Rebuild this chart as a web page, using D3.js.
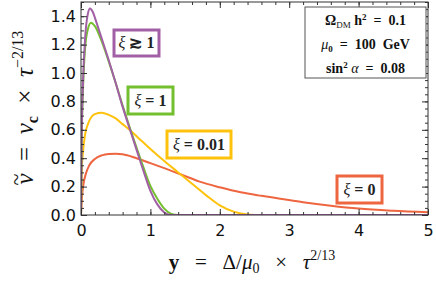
<!DOCTYPE html>
<html>
<head>
<meta charset="utf-8">
<script src="https://cdn.jsdelivr.net/npm/d3@7"></script>
<style>
  body { margin: 0; background: #fff; }
  svg { display: block; }
  text { white-space: pre; }
</style>
</head>
<body>
<svg></svg>
<script>
// curves (x = y-variable, v = nu tilde)
let xiBigX = [0, 0.01, 0.03, 0.06, 0.1, 0.13, 0.17, 0.22, 0.3, 0.4, 0.5, 0.6, 0.7, 0.8, 0.9, 1.0, 1.1, 1.2, 1.3, 1.5, 2, 3, 4, 5]
let xiBigV = [0, 0.55, 0.95, 1.25, 1.42, 1.455, 1.43, 1.36, 1.24, 1.09, 0.93, 0.76, 0.61, 0.46, 0.31, 0.17, 0.075, 0.018, 0, 0, 0, 0, 0, 0]

let xiOneX = [0, 0.01, 0.03, 0.06, 0.1, 0.145, 0.2, 0.3, 0.4, 0.5, 0.6, 0.7, 0.8, 0.9, 1.0, 1.1, 1.2, 1.3, 1.4, 2, 3, 4, 5]
let xiOneV = [0, 0.5, 0.9, 1.18, 1.31, 1.354, 1.33, 1.22, 1.08, 0.93, 0.77, 0.62, 0.475, 0.335, 0.205, 0.115, 0.045, 0.008, 0, 0, 0, 0, 0]

let xiSmallX = [0, 0.01, 0.03, 0.06, 0.1, 0.15, 0.2, 0.3, 0.4, 0.5, 0.6, 0.7, 0.8, 0.9, 1.0, 1.2, 1.4, 1.6, 1.8, 2.0, 2.2, 2.4, 2.6, 3, 4, 5]
let xiSmallV = [0, 0.3, 0.45, 0.57, 0.64, 0.69, 0.71, 0.72, 0.705, 0.68, 0.64, 0.6, 0.555, 0.51, 0.465, 0.38, 0.3, 0.22, 0.14, 0.068, 0.024, 0.004, 0, 0, 0, 0]

let xiZeroX = [0, 0.01, 0.03, 0.07, 0.12, 0.2, 0.3, 0.4, 0.5, 0.6, 0.8, 1.0, 1.2, 1.47, 1.71, 2.0, 2.3, 2.6, 2.87, 3.2, 3.6, 4.0, 4.5, 5]
let xiZeroV = [0, 0.1, 0.2, 0.29, 0.35, 0.395, 0.42, 0.43, 0.432, 0.428, 0.4, 0.365, 0.33, 0.28, 0.235, 0.195, 0.16, 0.135, 0.115, 0.09, 0.065, 0.045, 0.03, 0.02]

let xTicks = [0, 1, 2, 3, 4, 5]
let yTicks = [0, 0.2, 0.4, 0.6, 0.8, 1.0, 1.2, 1.4]

let width = 436
let height = 282
let plotLeft = 81, plotRight = 428, plotTop = 2, plotBottom = 215

let svg = d3.select('svg').attr('width', width).attr('height', height)

let xScale = d3.scaleLinear().domain([0, 5]).range([plotLeft, plotRight])
let yScale = d3.scaleLinear().domain([0, 1.5]).range([plotBottom, plotTop])

let series = [
  {x: xiZeroX, v: xiZeroV, color: '#ee6640'},
  {x: xiSmallX, v: xiSmallV, color: '#fec20c'},
  {x: xiOneX, v: xiOneV, color: '#74bf2f'},
  {x: xiBigX, v: xiBigV, color: '#a160a5'}
]

let line = d3.line()
  .x(d => xScale(d[0]))
  .y(d => yScale(d[1]))
  .curve(d3.curveMonotoneX)

svg.append('defs').append('clipPath').attr('id', 'clip')
  .append('rect').attr('x', plotLeft).attr('y', plotTop - 1).attr('width', plotRight - plotLeft).attr('height', plotBottom - plotTop + 1)

svg.append('g').attr('clip-path', 'url(#clip)')
  .selectAll('path')
  .data(series)
  .enter()
  .append('path')
  .attr('d', s => line(s.x.map((x, i) => [x, s.v[i]])))
  .attr('fill', 'none')
  .attr('stroke', s => s.color)
  .attr('stroke-width', 2)

// frame with ticks on all sides
let minorX = d3.range(0, 5.001, 0.2)
let minorY = d3.range(0, 1.501, 0.05)

let styleAxis = g => {
  g.select('.domain').remove()
  g.selectAll('line').attr('stroke', '#333')
}

svg.append('g').attr('transform', 'translate(0,' + plotBottom + ')')
  .call(d3.axisBottom(xScale).tickValues(minorX).tickSize(-3).tickFormat(''))
  .call(styleAxis)
svg.append('g').attr('transform', 'translate(0,' + plotBottom + ')')
  .call(d3.axisBottom(xScale).tickValues(xTicks).tickSize(-6).tickPadding(10).tickFormat(d3.format('d')))
  .call(styleAxis)
  .selectAll('text').attr('font-family', 'DejaVu Sans').attr('font-size', 16).attr('fill', '#111')

svg.append('g').attr('transform', 'translate(0,' + plotTop + ')')
  .call(d3.axisTop(xScale).tickValues(minorX).tickSize(-3).tickFormat(''))
  .call(styleAxis)
svg.append('g').attr('transform', 'translate(0,' + plotTop + ')')
  .call(d3.axisTop(xScale).tickValues(xTicks).tickSize(-6).tickFormat(''))
  .call(styleAxis)

svg.append('g').attr('transform', 'translate(' + plotLeft + ',0)')
  .call(d3.axisLeft(yScale).tickValues(minorY).tickSize(-3).tickFormat(''))
  .call(styleAxis)
svg.append('g').attr('transform', 'translate(' + plotLeft + ',0)')
  .call(d3.axisLeft(yScale).tickValues(yTicks).tickSize(-6).tickPadding(5).tickFormat(d3.format('.1f')))
  .call(styleAxis)
  .selectAll('text').attr('font-family', 'DejaVu Sans').attr('font-size', 16).attr('fill', '#111')

svg.append('g').attr('transform', 'translate(' + plotRight + ',0)')
  .call(d3.axisRight(yScale).tickValues(minorY).tickSize(-3).tickFormat(''))
  .call(styleAxis)
svg.append('g').attr('transform', 'translate(' + plotRight + ',0)')
  .call(d3.axisRight(yScale).tickValues(yTicks).tickSize(-6).tickFormat(''))
  .call(styleAxis)

svg.append('rect')
  .attr('x', plotLeft).attr('y', plotTop).attr('width', plotRight - plotLeft).attr('height', plotBottom - plotTop)
  .attr('fill', 'none').attr('stroke', '#333').attr('stroke-width', 1)

// curve labels
let labels = [
  {x: 114, y: 30, w: 45, h: 26, color: '#a160a5', parts: [['ξ', 'italic'], [' ≳ 1', 'bold']]},
  {x: 128, y: 87, w: 45, h: 27, color: '#74bf2f', parts: [['ξ', 'italic'], [' = 1', 'bold']]},
  {x: 167, y: 131, w: 64, h: 27, color: '#fec20c', parts: [['ξ', 'italic'], [' = 0.01', 'bold']]},
  {x: 337, y: 176, w: 45, h: 27, color: '#ee6640', parts: [['ξ', 'italic'], [' = 0', 'bold']]}
]

labels.forEach(l => {
  svg.append('rect')
    .attr('x', l.x).attr('y', l.y).attr('width', l.w).attr('height', l.h)
    .attr('fill', '#fff').attr('stroke', l.color).attr('stroke-width', 3)
  let t = svg.append('text')
    .attr('x', l.x + l.w / 2).attr('y', l.y + l.h / 2 + 5)
    .attr('text-anchor', 'middle')
    .attr('font-family', 'Liberation Serif')
    .attr('font-size', 16)
    .attr('fill', '#222')
  l.parts.forEach(p => {
    t.append('tspan').text(p[0])
      .attr('font-style', p[1] == 'italic' ? 'italic' : 'normal')
      .attr('font-weight', p[1] == 'bold' ? 'bold' : 'normal')
  })
})

// parameter box
svg.append('rect')
  .attr('x', 305).attr('y', 7).attr('width', 121).attr('height', 71)
  .attr('fill', '#fff').attr('stroke', '#555').attr('stroke-width', 1)

let info = svg.append('g')
  .attr('font-family', 'Liberation Serif')
  .attr('font-weight', 'bold')
  .attr('font-size', 14)
  .attr('fill', '#111')
  .attr('text-anchor', 'middle')

let t1 = info.append('text').attr('x', 365.5).attr('y', 25)
t1.append('tspan').text('Ω')
t1.append('tspan').text('DM').attr('font-size', 9).attr('font-weight', 'normal').attr('dy', 3)
t1.append('tspan').text(' h').attr('dy', -3)
t1.append('tspan').text('2').attr('font-size', 9).attr('dy', -5)
t1.append('tspan').text('  =  0.1').attr('dy', 5)

let t2 = info.append('text').attr('x', 365.5).attr('y', 49)
t2.append('tspan').text('μ').attr('font-weight', 'normal').attr('font-style', 'italic')
t2.append('tspan').text('0').attr('font-size', 9).attr('dy', 3)
t2.append('tspan').text('  =  100  GeV').attr('dy', -3)

let t3 = info.append('text').attr('x', 365.5).attr('y', 73)
t3.append('tspan').text('sin')
t3.append('tspan').text('2').attr('font-size', 9).attr('dy', -5)
t3.append('tspan').text(' α').attr('dy', 5).attr('font-style', 'italic').attr('font-weight', 'normal')
t3.append('tspan').text('  =  0.08')

// axis titles
let xt = svg.append('text')
  .attr('x', 252).attr('y', 269)
  .attr('text-anchor', 'middle')
  .attr('font-family', 'Liberation Serif')
  .attr('font-size', 21)
  .attr('fill', '#111')
xt.append('tspan').text('y').attr('font-weight', 'bold')
xt.append('tspan').text('   =   Δ/')
xt.append('tspan').text('μ').attr('font-style', 'italic')
xt.append('tspan').text('0').attr('font-size', 14).attr('dy', 4)
xt.append('tspan').text('   ×   ').attr('dy', -4)
xt.append('tspan').text('τ').attr('font-style', 'italic')
xt.append('tspan').text('2/13').attr('font-size', 14).attr('dy', -9)

let yt = svg.append('text')
  .attr('transform', 'translate(33,108) rotate(-90)')
  .attr('text-anchor', 'middle')
  .attr('font-family', 'Liberation Serif')
  .attr('font-size', 25)
  .attr('fill', '#111')
yt.append('tspan').text('ν').attr('font-style', 'italic')
yt.append('tspan').text('~').attr('dx', -12).attr('dy', -10).attr('font-size', 22)
yt.append('tspan').text('  =  ').attr('dy', 10)
yt.append('tspan').text('ν').attr('font-style', 'italic')
yt.append('tspan').text('c').attr('font-size', 16).attr('font-weight', 'bold').attr('dy', 5)
yt.append('tspan').text('  ×  ').attr('dy', -5)
yt.append('tspan').text('τ').attr('font-style', 'italic')
yt.append('tspan').text('−2/13').attr('font-size', 16).attr('dy', -10)
</script>
</body>
</html>
